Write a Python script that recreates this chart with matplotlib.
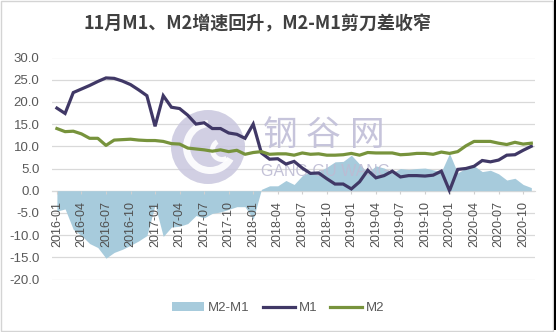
import matplotlib
matplotlib.use("Agg")
import matplotlib.pyplot as plt
from matplotlib.patches import Circle, Wedge, Rectangle
import numpy as np
import pandas as pd

plt.rcParams['font.family'] = ['Liberation Sans', 'Noto Sans CJK SC', 'DejaVu Sans']

# ---- data ----
months = pd.date_range("2016-01-01", "2020-11-01", freq="MS").strftime("%Y-%m").tolist()

m1 = [18.6, 17.4, 22.1, 22.9, 23.7, 24.6, 25.4, 25.3, 24.7, 23.9, 22.7, 21.4,
      14.5, 21.4, 18.8, 18.5, 17.0, 15.0, 15.3, 14.0, 14.0, 13.0, 12.7, 11.8,
      15.0, 8.5, 7.1, 7.2, 6.0, 6.6, 5.1, 3.9, 4.0, 2.7, 1.5, 1.5,
      0.4, 2.0, 4.6, 2.9, 3.4, 4.4, 3.1, 3.4, 3.4, 3.3, 3.5, 4.4,
      0.0, 4.8, 5.0, 5.5, 6.8, 6.5, 6.9, 8.0, 8.1, 9.1, 10.0]

m2 = [14.0, 13.3, 13.4, 12.8, 11.8, 11.8, 10.2, 11.4, 11.5, 11.6, 11.4, 11.3,
      11.3, 11.1, 10.6, 10.5, 9.6, 9.4, 9.2, 8.9, 9.2, 8.8, 9.1, 8.2,
      8.6, 8.8, 8.2, 8.3, 8.3, 8.0, 8.5, 8.2, 8.3, 8.0, 8.0, 8.1,
      8.4, 8.0, 8.6, 8.5, 8.5, 8.5, 8.1, 8.2, 8.4, 8.4, 8.2, 8.7,
      8.4, 8.8, 10.1, 11.1, 11.1, 11.1, 10.7, 10.4, 10.9, 10.5, 10.7]

m2_m1 = [-4.6, -4.1, -8.7, -10.1, -11.9, -12.8, -15.2, -13.9, -13.2, -12.3, -11.3, -10.1,
         -3.2, -10.3, -8.2, -8.0, -7.4, -5.6, -6.1, -5.1, -4.8, -4.2, -3.6, -3.6,
         -6.4, 0.3, 1.1, 1.1, 2.3, 1.4, 3.4, 4.3, 4.3, 5.3, 6.5, 6.6,
         8.0, 6.0, 4.0, 5.6, 5.1, 4.1, 5.0, 4.8, 5.0, 5.1, 4.7, 4.3,
         8.4, 4.0, 5.1, 5.6, 4.3, 4.6, 3.8, 2.4, 2.8, 1.4, 0.7]

y_ticks = [30, 25, 20, 15, 10, 5, 0, -5, -10, -15, -20]
title = "11月M1、M2增速回升，M2-M1剪刀差收窄"
series_names = ["M2-M1", "M1", "M2"]

# ---- figure ----
W, H = 556, 332
fig = plt.figure(figsize=(W / 100, H / 100), dpi=100)
fig.patch.set_facecolor("white")

ax = fig.add_axes([52 / W, (H - 279.5) / H, (535 - 52) / W, (279.5 - 57.5) / H])
ax.set_facecolor("none")
x = np.arange(len(months))

ax.fill_between(x, 0, m2_m1, color="#a7cbdc", lw=0, zorder=1, label=series_names[0])
l1, = ax.plot(x, m1, color="#403866", lw=2.3, zorder=4, label=series_names[1],
              solid_joinstyle="miter")
l2, = ax.plot(x, m2, color="#77933c", lw=2.3, zorder=4, label=series_names[2])

ax.set_ylim(-20, 30)
ax.set_xlim(-0.6, 58.45)
ax.set_yticks(y_ticks)
ax.set_yticklabels([f"{v:.1f}" for v in y_ticks])
ax.grid(axis="y", color="#d9d9d9", lw=0.9)
ax.set_axisbelow(True)
ax.xaxis.set_zorder(5)
for s in ["top", "right", "left"]:
    ax.spines[s].set_visible(False)
ax.spines["bottom"].set_position(("data", 0))
ax.spines["bottom"].set_color("#d9d9d9")
ax.spines["bottom"].set_zorder(0.5)
ax.set_xticks(x[::3])
ax.set_xticklabels(months[::3], rotation=90)
ax.tick_params(axis="x", length=2.5, color="#d0d0d0", labelsize=9,
               labelcolor="#505050", pad=5)
ax.tick_params(axis="y", length=0, labelsize=9.5, labelcolor="#595959", pad=9)

# ---- watermark ----
tr = fig.dpi_scale_trans
def px(xp, yp):
    return (xp / 100, (H - yp) / 100)
wm_col = "#c9c7de"
c = Circle(px(208, 147), 0.37, transform=tr, color=wm_col, alpha=0.85, zorder=2, lw=0)
ax.add_artist(c)
wdg = Wedge(px(210, 147), 0.27, 95, 330, width=0.07, transform=tr, color="white",
            alpha=0.9, zorder=2.1, lw=0)
ax.add_artist(wdg)
wdg2 = Wedge(px(222, 150), 0.12, 120, 300, width=0.05, transform=tr, color="white",
             alpha=0.9, zorder=2.1, lw=0)
ax.add_artist(wdg2)
for ch, xc in zip("钢谷网", [280, 323, 367]):
    ax.text(*px(xc, 136), ch, transform=tr, ha="center", va="center", fontsize=25,
            color="#c3c1d9", family=["Noto Sans CJK SC"], fontweight="medium",
            zorder=2.2, alpha=0.95)
ax.text(*px(326, 171), "GANG GU WANG", transform=tr, ha="center", va="center",
        fontsize=11.5, color="#bdbbd3", zorder=2.2, alpha=0.9)

# ---- title ----
fig.text(257 / W, 1 - 24 / H, title, ha="center", va="center", fontsize=13,
         fontweight="bold", color="#404040", family=["Noto Sans CJK SC", "DejaVu Sans"])

# ---- legend ----
handles, labels = ax.get_legend_handles_labels()
leg = fig.legend(handles, labels, loc="center", bbox_to_anchor=(278.5 / W, 1 - 308 / H),
                 ncol=3, frameon=False, fontsize=9.5, handlelength=2.4,
                 handletextpad=0.3, columnspacing=1.0, handleheight=0.6)
for t in leg.get_texts():
    t.set_color("#595959")

# ---- frame ----
fig.add_artist(Rectangle((1 / W, 1.3 / H), 551.5 / W, 329.5 / H, transform=fig.transFigure,
                         fill=False, edgecolor="#d4d4d4", lw=1))
fig.add_artist(Rectangle((553.5 / W, 2 / H), 2.5 / W, 330 / H, transform=fig.transFigure,
                         color="black", lw=0))

fig.savefig("out.png", dpi=100)
